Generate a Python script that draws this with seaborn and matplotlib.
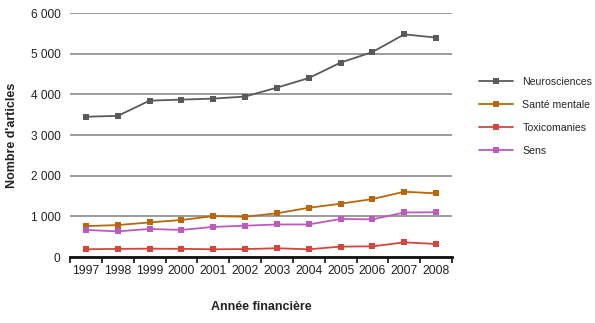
import matplotlib
matplotlib.use("Agg")
import matplotlib.pyplot as plt
from matplotlib.ticker import FixedLocator, FuncFormatter
import seaborn as sns
import pandas as pd

years = [1997, 1998, 1999, 2000, 2001, 2002, 2003, 2004, 2005, 2006, 2007, 2008]
neurosciences = [3450, 3470, 3845, 3870, 3895, 3945, 4165, 4400, 4780, 5040, 5475, 5395]
sante_mentale = [760, 785, 850, 910, 1005, 990, 1075, 1210, 1310, 1425, 1605, 1565]
toxicomanies = [190, 200, 205, 200, 190, 195, 215, 190, 255, 262, 360, 320]
sens = [665, 630, 690, 665, 740, 770, 800, 800, 935, 925, 1095, 1100]

series_names = ["Neurosciences", "Santé mentale", "Toxicomanies", "Sens"]
series_values = [neurosciences, sante_mentale, toxicomanies, sens]
colors = ["#5a5a5a", "#b8680c", "#d4463b", "#bb5cbd"]

rows = []
for name, vals in zip(series_names, series_values):
    for y, v in zip(years, vals):
        rows.append({"Année": y, "Articles": v, "Série": name})
df = pd.DataFrame(rows)

sns.set_theme(style="white")
plt.rcParams["font.family"] = ["Liberation Sans", "DejaVu Sans"]

fig = plt.figure(figsize=(5.95, 3.23), dpi=100)
ax = fig.add_axes([70 / 595, 1 - 257 / 323, (452 - 70) / 595, (257 - 13) / 323])

sns.lineplot(
    data=df, x="Année", y="Articles", hue="Série", hue_order=series_names,
    palette=colors, marker="s", markersize=4.2, markeredgewidth=0,
    linewidth=1.3, ax=ax, legend=True,
)

ax.set_xlim(years[0] - 0.5, years[-1] + 0.5)
ax.set_ylim(0, 6000)
ax.yaxis.set_major_locator(FixedLocator([0, 1000, 2000, 3000, 4000, 5000, 6000]))
ax.yaxis.set_major_formatter(FuncFormatter(lambda v, p: f"{int(v):,}".replace(",", " ")))
ax.grid(axis="y", color="#8a8a8a", linewidth=1.2)
ax.set_axisbelow(True)

ax.xaxis.set_major_locator(FixedLocator(years))
ax.xaxis.set_major_formatter(FuncFormatter(lambda v, p: str(int(round(v)))))
ax.xaxis.set_minor_locator(FixedLocator([y - 0.5 for y in years] + [years[-1] + 0.5]))
ax.tick_params(axis="x", which="major", length=0, pad=6, labelsize=8.8, colors="#222222")
ax.tick_params(axis="x", which="minor", bottom=True, length=4, width=1.2, color="#111111")
ax.tick_params(axis="y", length=0, pad=7, labelsize=8.6, colors="#222222")

for side in ["top", "right", "left"]:
    ax.spines[side].set_visible(False)
ax.spines["bottom"].set_color("#111111")
ax.spines["bottom"].set_linewidth(2)

ax.set_xlabel("Année financière", fontsize=9, fontweight="bold", labelpad=17, color="#222222")
ax.set_ylabel("Nombre d'articles", fontsize=9, fontweight="bold", labelpad=9, color="#222222")

handles, labels = ax.get_legend_handles_labels()
ax.legend(handles, labels, loc="upper left", bbox_to_anchor=(1.06, 0.755),
          frameon=False, fontsize=7.6, handlelength=3.2, labelspacing=1.22,
          handletextpad=0.9, borderaxespad=0)

fig.savefig("out.png", dpi=100)
